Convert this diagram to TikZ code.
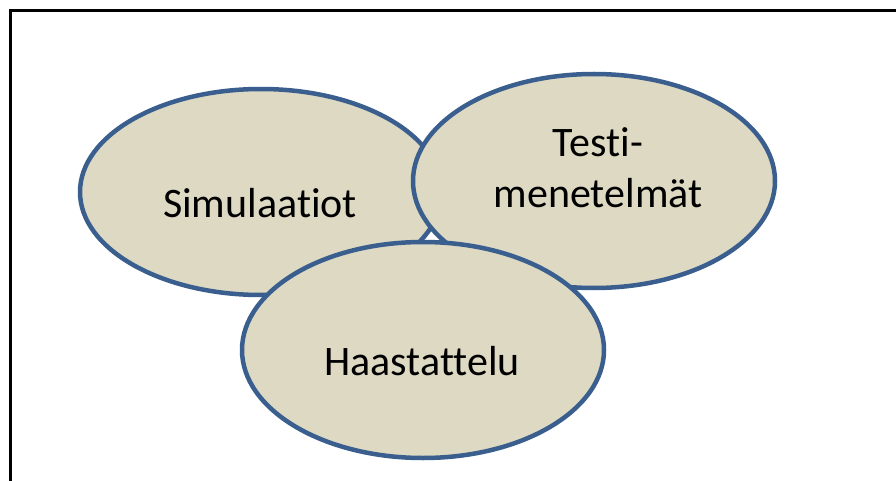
\documentclass[tikz,border=0pt]{standalone}
\usepackage{fontspec}
\setmainfont[RawFeature=-liga]{Carlito}
\usetikzlibrary{shapes.geometric}
\definecolor{blobline}{HTML}{3A5F8F}
\definecolor{blobfill}{HTML}{DDD9C3}
\tikzset{
  blob/.style={ellipse, draw=blobline, fill=blobfill, line width=4.5pt, inner sep=0pt},
  lbl/.style={font=\fontsize{42}{51}\selectfont, align=center, inner sep=0pt},
  frameline/.style={line width=3pt, black}
}
\begin{document}
\begin{tikzpicture}[x=1pt,y=-1pt]
\useasboundingbox (0,0) rectangle (896,481);
\coordinate (fa) at (10,500);
\coordinate (fb) at (10,10.5);
\coordinate (fc) at (900,10.5);
\draw[frameline] (fa) -- (fb) -- (fc);
\node[blob, minimum width=362pt, minimum height=206pt] (sim) at (261,192) {};
\node[blob, minimum width=362pt, minimum height=214pt] (test) at (594,181) {};
\node[blob, minimum width=362pt, minimum height=216pt] (haas) at (423,350) {};
\node[lbl] (simt) at (260,203) {Simulaatiot};
\node[lbl] (testt) at (598,168) {Testi-\\menetelmät};
\node[lbl] (haast) at (422,361) {Haastattelu};
\end{tikzpicture}
\end{document}
